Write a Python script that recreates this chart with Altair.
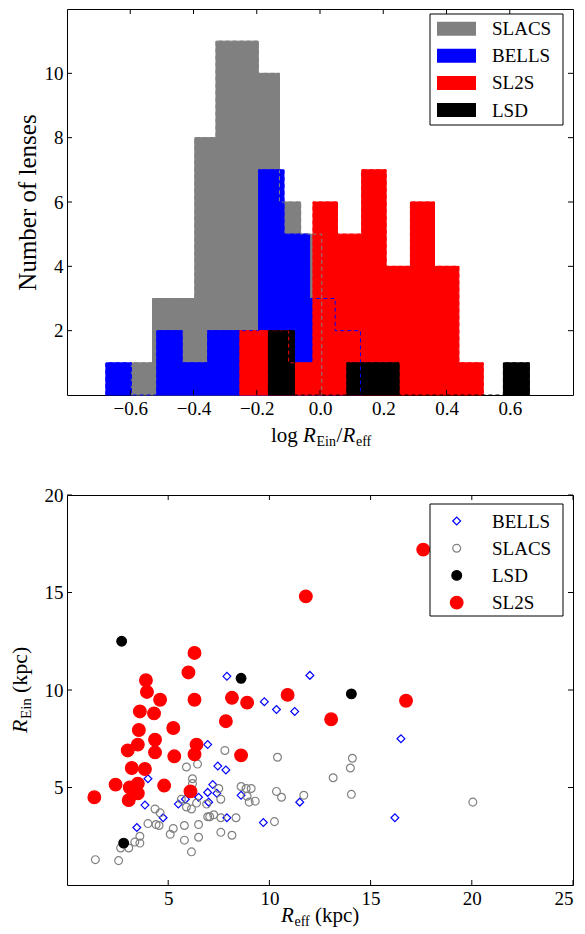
import altair as alt
import pandas as pd

FONT = "Liberation Serif"

# ---------------- histogram values ----------------
hist_names = ["SLACS", "BELLS", "SL2S", "LSD"]
hist_colors = ["#808080", "#0000ff", "#ff0000", "#000000"]

slacs_edges = [-0.5965, -0.5296, -0.4627, -0.3958, -0.3289, -0.262, -0.1951, -0.1282, -0.0613, 0.0056]
slacs_counts = [1, 3, 3, 8, 11, 11, 10, 6, 5]

bells_edges = [-0.677, -0.5965, -0.516, -0.436, -0.355, -0.275, -0.194, -0.114, -0.033, 0.048, 0.128]
bells_counts = [1, 0, 2, 1, 2, 2, 7, 5, 3, 2]

sl2s_edges = [-0.253, -0.176, -0.099, -0.022, 0.055, 0.132, 0.209, 0.286, 0.362, 0.439, 0.516]
sl2s_counts = [2, 2, 1, 6, 5, 7, 4, 6, 4, 1]

lsd_edges = [-0.163, -0.081, 0.002, 0.085, 0.167, 0.250, 0.332, 0.415, 0.497, 0.580, 0.662]
lsd_counts = [2, 0, 0, 1, 1, 0, 0, 0, 0, 1]

hist_x_ticks = [-0.6, -0.4, -0.2, 0.0, 0.2, 0.4, 0.6]
hist_y_ticks = [2, 4, 6, 8, 10]

# ---------------- scatter values ----------------
sc_names = ["BELLS", "SLACS", "LSD", "SL2S"]
sc_stroke = ["#0000ff", "#808080", "#000000", "#ff0000"]
sc_fill = ["transparent", "transparent", "#000000", "#ff0000"]
sc_shape = ["diamond", "circle", "circle", "circle"]
sc_size = [61, 61, 94, 161]

bells_reff = [7.9, 12.0, 9.75, 10.35, 11.25, 6.95, 7.45, 7.85, 4.0, 7.2, 6.95, 7.4, 8.6,
              5.85, 6.5, 5.5, 7.0, 3.85, 11.5, 4.75, 7.9, 3.45, 9.7, 16.5, 16.2]
bells_rein = [10.7, 10.75, 9.4, 9.0, 8.9, 7.2, 6.1, 5.9, 5.45, 5.15, 4.75, 4.7, 4.6,
              4.4, 4.5, 4.15, 4.25, 4.1, 4.25, 3.45, 3.45, 2.95, 3.2, 7.5, 3.45]

slacs_reff = [7.8, 10.4, 5.9, 6.45, 6.2, 6.2, 8.6, 8.85, 9.1, 7.5, 10.35, 11.7, 10.6, 8.9,
              9.0, 9.3, 7.6, 5.65, 5.9, 6.15, 6.4, 6.9, 4.35, 4.6, 6.95, 7.05, 7.25, 7.6,
              8.35, 10.25, 4.0, 4.4, 4.55, 5.25, 5.8, 6.5, 5.1, 7.6, 8.15, 6.5, 5.8, 3.6,
              3.35, 3.6, 2.65, 3.05, 6.15, 1.4, 2.55, 14.1, 14.0, 13.15, 14.05, 20.05]
slacs_rein = [6.9, 6.55, 6.05, 6.2, 5.45, 5.2, 5.05, 4.95, 4.95, 4.95, 4.8, 4.6, 4.5, 4.55,
              4.25, 4.3, 4.4, 4.4, 4.0, 3.9, 4.2, 4.15, 3.9, 3.7, 3.5, 3.5, 3.6, 3.45,
              3.45, 3.25, 3.15, 3.1, 3.05, 2.9, 3.05, 3.1, 2.6, 2.7, 2.55, 2.45, 2.3, 2.5,
              2.2, 2.15, 1.9, 1.9, 1.7, 1.3, 1.25, 6.5, 6.0, 5.5, 4.65, 4.25]

lsd_reff = [2.7, 8.6, 14.05, 2.8]
lsd_rein = [12.5, 10.6, 9.8, 2.15]

sl2s_reff = [11.8, 6.3, 6.0, 3.9, 3.95, 4.6, 6.3, 8.15, 8.9, 10.9, 3.6, 4.3, 7.85, 3.55,
             5.25, 4.35, 3.5, 6.4, 3.0, 4.35, 6.3, 5.3, 8.6, 3.2, 3.85, 2.4, 3.5, 4.8,
             3.1, 3.5, 6.1, 1.35, 3.05, 13.05, 16.75, 17.6]
sl2s_rein = [14.8, 11.9, 10.9, 10.5, 9.9, 9.5, 9.5, 9.6, 9.35, 9.75, 8.9, 8.8, 8.4, 7.95,
             8.05, 7.45, 7.2, 7.2, 6.9, 6.8, 6.7, 6.6, 6.65, 6.0, 5.95, 5.15, 5.2, 5.1,
             5.0, 4.7, 4.8, 4.5, 4.35, 8.5, 9.45, 17.2]

sc_x_ticks = [5, 10, 15, 20, 25]
sc_y_ticks = [5, 10, 15, 20]

# ---------------- layout constants ----------------
W = 506
H1 = 386
H2 = 390
TICK = 5

bar_rows, step_rows = [], []
for name, edges, counts in [("SLACS", slacs_edges, slacs_counts),
                            ("BELLS", bells_edges, bells_counts),
                            ("SL2S", sl2s_edges, sl2s_counts),
                            ("LSD", lsd_edges, lsd_counts)]:
    for i, c in enumerate(counts):
        if c > 0:
            bar_rows.append({"survey": name, "lo": edges[i], "hi": edges[i + 1], "n": c})
    pts = [(edges[0], 0)] + [(edges[i], counts[i]) for i in range(len(counts))] + [(edges[-1], 0)]
    for j, (xv, yv) in enumerate(pts):
        step_rows.append({"survey": name, "x": xv, "n": yv, "j": j})
bars_df = pd.DataFrame(bar_rows)
steps_df = pd.DataFrame(step_rows)

sc_series = {
    "BELLS": (bells_reff, bells_rein),
    "SLACS": (slacs_reff, slacs_rein),
    "LSD": (lsd_reff, lsd_rein),
    "SL2S": (sl2s_reff, sl2s_rein),
}

one = alt.Data(values=[{"k": 0}])


def txt(text, x, y, size, italic=False, angle=0):
    return alt.Chart(one).mark_text(
        text=text, font=FONT, fontSize=size, fontStyle="italic" if italic else "normal",
        align="left", baseline="alphabetic", angle=angle, color="black"
    ).encode(x=alt.value(x), y=alt.value(y))


def box(x1, x2, y1, y2, fill="white", stroke="black", sw=1):
    return alt.Chart(one).mark_rect(fill=fill, stroke=stroke, strokeWidth=sw).encode(
        x=alt.value(x1), x2=alt.value(x2), y=alt.value(y1), y2=alt.value(y2))


# ---------------- top: histogram ----------------
hx_scale = alt.Scale(domain=[-0.8, 0.8], nice=False, zero=False)
hy_scale = alt.Scale(domain=[0, 12], nice=False)
hx_axis = alt.Axis(values=hist_x_ticks, format=".1f", ticks=False, domain=False, grid=False,
                   labelPadding=4, title=None)
hy_axis = alt.Axis(values=hist_y_ticks, ticks=False, domain=False, grid=False, labelPadding=4,
                   title="Number of lenses", titleFontSize=25, titlePadding=4)
hist_color_scale = alt.Scale(domain=hist_names, range=hist_colors)

bars = alt.Chart(bars_df).mark_rect(strokeWidth=1).encode(
    x=alt.X("lo:Q", scale=hx_scale, axis=hx_axis),
    x2="hi:Q",
    y=alt.Y("n:Q", scale=hy_scale, axis=hy_axis),
    y2=alt.datum(0),
    color=alt.Color("survey:N", scale=hist_color_scale, legend=None),
    stroke=alt.Stroke("survey:N", scale=hist_color_scale, legend=None),
)

steps = alt.Chart(steps_df).mark_line(interpolate="step-after", strokeDash=[4, 3],
                                      strokeWidth=1).encode(
    x=alt.X("x:Q", scale=hx_scale, axis=hx_axis),
    y=alt.Y("n:Q", scale=hy_scale, axis=hy_axis),
    stroke=alt.Stroke("survey:N", scale=hist_color_scale, legend=None),
    order=alt.Order("j:Q"),
    detail="survey:N",
)

hxt = alt.Chart(pd.DataFrame({"t": hist_x_ticks}))
hyt = alt.Chart(pd.DataFrame({"t": hist_y_ticks}))
h_ticks = [
    hxt.mark_rule(color="black").encode(x=alt.X("t:Q", scale=hx_scale, axis=hx_axis),
                                        y=alt.value(H1), y2=alt.value(H1 - TICK)),
    hxt.mark_rule(color="black").encode(x=alt.X("t:Q", scale=hx_scale, axis=hx_axis),
                                        y=alt.value(0), y2=alt.value(TICK)),
    hyt.mark_rule(color="black").encode(y=alt.Y("t:Q", scale=hy_scale, axis=hy_axis),
                                        x=alt.value(0), x2=alt.value(TICK)),
    hyt.mark_rule(color="black").encode(y=alt.Y("t:Q", scale=hy_scale, axis=hy_axis),
                                        x=alt.value(W), x2=alt.value(W - TICK)),
]

hb = H1 + 47
h_title = [
    txt("log", 204, hb, 21),
    txt("R", 236, hb, 21, italic=True),
    txt("Ein", 249.5, hb + 4, 14),
    txt("/", 269.5, hb, 21),
    txt("R", 275.5, hb, 21, italic=True),
    txt("eff", 289, hb + 4, 14),
]

# legend (top)
h_leg = [box(363, 496, 5, 116)]
for i, (name, col) in enumerate(zip(hist_names, hist_colors)):
    cy = 19.7 + 27.1 * i
    h_leg.append(box(370, 409, cy - 7, cy + 7, fill=col, stroke=col, sw=0))
    h_leg.append(txt(name, 425, cy + 6.5, 19))

top = alt.layer(bars, steps, *h_ticks, *h_title, *h_leg).properties(width=W, height=H1)

# ---------------- bottom: scatter ----------------
sx_scale = alt.Scale(domain=[0, 25], nice=False, zero=False)
sy_scale = alt.Scale(domain=[0, 20], nice=False, zero=False)
sx_axis = alt.Axis(values=sc_x_ticks, ticks=False, domain=False, grid=False, labelPadding=4,
                   title=None)
sy_axis = alt.Axis(values=sc_y_ticks, ticks=False, domain=False, grid=False, labelPadding=4,
                   title=None)

point_layers = []
for i, name in enumerate(sc_names):
    xs_, ys_ = sc_series[name]
    df = pd.DataFrame({"reff": xs_, "rein": ys_})
    point_layers.append(
        alt.Chart(df).mark_point(shape=sc_shape[i], size=sc_size[i], stroke=sc_stroke[i],
                                 fill=sc_fill[i], strokeWidth=1.2, opacity=1)
        .encode(x=alt.X("reff:Q", scale=sx_scale, axis=sx_axis),
                y=alt.Y("rein:Q", scale=sy_scale, axis=sy_axis))
    )

sxt = alt.Chart(pd.DataFrame({"t": sc_x_ticks}))
syt = alt.Chart(pd.DataFrame({"t": sc_y_ticks}))
s_ticks = [
    sxt.mark_rule(color="black").encode(x=alt.X("t:Q", scale=sx_scale, axis=sx_axis),
                                        y=alt.value(H2), y2=alt.value(H2 - TICK)),
    sxt.mark_rule(color="black").encode(x=alt.X("t:Q", scale=sx_scale, axis=sx_axis),
                                        y=alt.value(0), y2=alt.value(TICK)),
    syt.mark_rule(color="black").encode(y=alt.Y("t:Q", scale=sy_scale, axis=sy_axis),
                                        x=alt.value(0), x2=alt.value(TICK)),
    syt.mark_rule(color="black").encode(y=alt.Y("t:Q", scale=sy_scale, axis=sy_axis),
                                        x=alt.value(W), x2=alt.value(W - TICK)),
]

sb = H2 + 37
s_title = [
    txt("R", 214, sb, 21, italic=True),
    txt("eff", 227.5, sb + 4, 14),
    txt("(kpc)", 248, sb, 21),
    txt("R", -40, 238, 22, italic=True, angle=270),
    txt("Ein", -36, 224, 15, angle=270),
    txt("(kpc)", -40, 198, 22, angle=270),
]

# legend (bottom)
s_leg = [box(363, 496, 9, 121)]
for i, name in enumerate(sc_names):
    cy = 26 + 27.2 * i
    s_leg.append(
        alt.Chart(one).mark_point(shape=sc_shape[i], size=sc_size[i], stroke=sc_stroke[i],
                                  fill=sc_fill[i], strokeWidth=1.2, opacity=1)
        .encode(x=alt.value(389.7), y=alt.value(cy))
    )
    s_leg.append(txt(name, 425, cy + 6.5, 19))

bottom = alt.layer(*point_layers, *s_ticks, *s_title, *s_leg).properties(width=W, height=H2)

chart = alt.vconcat(top, bottom, spacing=35).properties(
    padding={"left": 0, "top": 0, "right": 0, "bottom": 0}
).configure_view(stroke="black", strokeWidth=1).configure_axis(
    labelFont=FONT, labelFontSize=19, labelColor="black", titleFont=FONT,
    titleColor="black", titleFontWeight="normal"
)

chart.save("out.html", embed_options={"renderer": "svg", "actions": False})
